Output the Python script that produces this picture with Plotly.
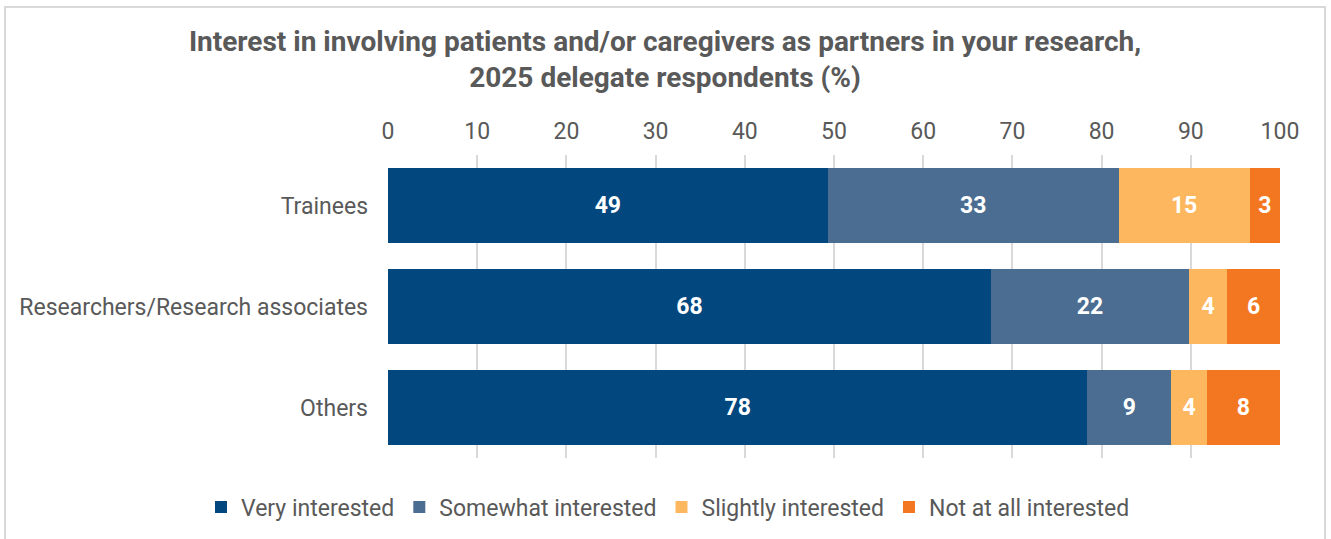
import plotly.graph_objects as go

categories = ["Trainees", "Researchers/Research associates", "Others"]
series_names = ["Very interested", "Somewhat interested", "Slightly interested", "Not at all interested"]
very = [49.3, 67.6, 78.4]
somewhat = [32.6, 22.2, 9.4]
slightly = [14.7, 4.3, 4.0]
not_at_all = [3.4, 5.9, 8.2]
colors = ["#03477F", "#4A6D91", "#FDB85F", "#F37721"]
tick_vals = [0, 10, 20, 30, 40, 50, 60, 70, 80, 90, 100]

font_family = "Roboto, Arial, sans-serif"
grey = "#595959"
fs = 23

fig = go.Figure()
for name, vals, col in zip(series_names, [very, somewhat, slightly, not_at_all], colors):
    fig.add_trace(go.Bar(
        y=categories, x=vals, name=name, orientation="h",
        marker=dict(color=col, line=dict(width=0)),
        texttemplate="%{x:.0f}", textposition="inside", insidetextanchor="middle",
        textfont=dict(color="white", size=fs, family=font_family, weight="bold"),
        textangle=0,
    ))

W, H = 1331, 539
ML, MR, T, B = 10, 51, 155, 81
AX_LEFT = 388
pw, ph = W - ML - MR, H - T - B

def px(x):
    return (x - ML) / pw

def py(y):
    return (H - B - y) / ph

fig.update_layout(
    width=W, height=H,
    barmode="stack", bargap=0.26,
    plot_bgcolor="white", paper_bgcolor="white",
    margin=dict(l=ML, r=MR, t=T, b=B, autoexpand=False),
    font=dict(family=font_family, color=grey, size=fs),
    title=dict(
        text="<b>Interest in involving patients and/or caregivers as partners in your research,<br>2025 delegate respondents (%)</b>",
        x=665 / W, xref="container", xanchor="center",
        y=1 - 51 / H, yanchor="top", yref="container",
        font=dict(size=28, color=grey, family=font_family),
    ),
    xaxis=dict(
        domain=[px(AX_LEFT), 1],
        side="top", range=[0, 100], tickvals=tick_vals,
        showgrid=True, gridcolor="#D9D9D9", gridwidth=1.5,
        zeroline=False, showline=False,
        tickfont=dict(size=fs, color=grey), ticks="", ticklabelstandoff=10,
    ),
    yaxis=dict(
        categoryorder="array", categoryarray=categories[::-1],
        tickfont=dict(size=fs, color=grey), ticks="", ticklabelstandoff=19,
        showgrid=False, zeroline=False, showline=False,
    ),
    legend=dict(
        orientation="h", xref="container", yref="container",
        x=668 / W, xanchor="center", y=1 - 507 / H, yanchor="middle",
        font=dict(size=fs, color=grey), traceorder="normal",
        itemwidth=30, tracegroupgap=0,
    ),
    uniformtext=dict(mode="show", minsize=10),
    shapes=[dict(type="rect", xref="paper", yref="paper",
                 x0=px(5), x1=px(1325), y0=py(540), y1=py(7),
                 line=dict(color="#D9D9D9", width=2), fillcolor="rgba(0,0,0,0)", layer="below")],
)

fig.write_html("out.html")
